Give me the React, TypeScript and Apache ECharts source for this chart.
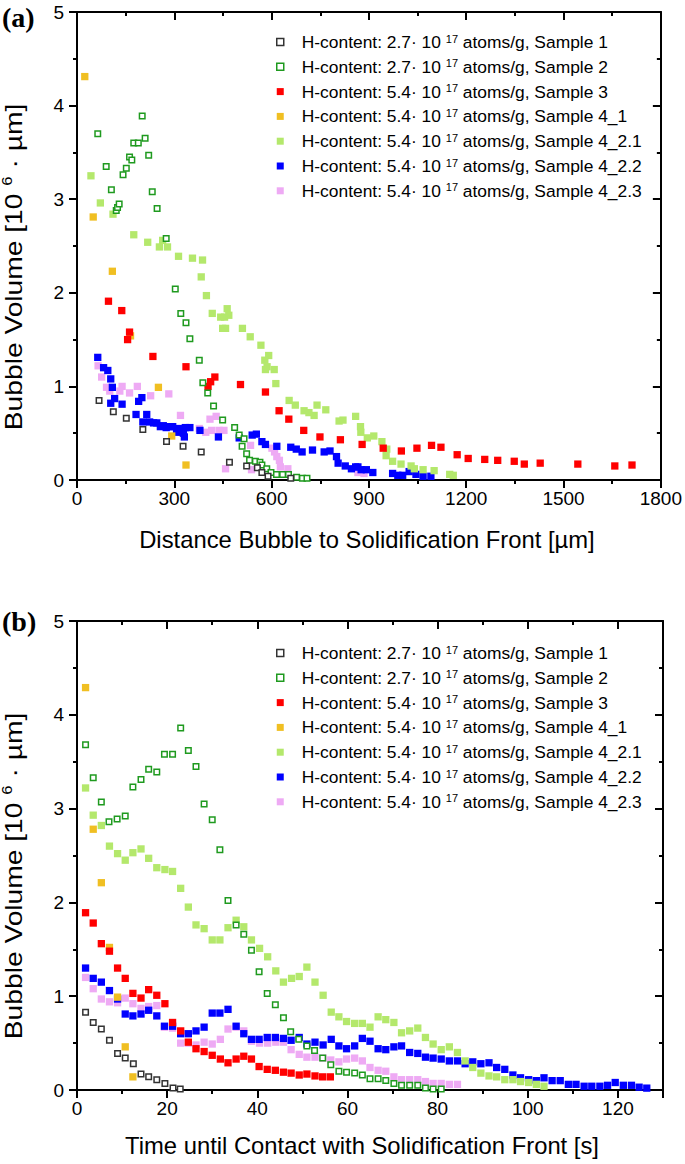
import React, { useEffect, useRef } from "react";
import * as echarts from "echarts";

// ---------- categories / legend ----------
const SAMPLES = ["Sample 1", "Sample 2", "Sample 3", "Sample 4_1", "Sample 4_2.1", "Sample 4_2.2", "Sample 4_2.3"];
const H_CONTENT = ["2.7", "2.7", "5.4", "5.4", "5.4", "5.4", "5.4"];
const COLORS = ["#333333", "#1f9a1f", "#ff0000", "#f0bf22", "#b4e86c", "#0000ff", "#eeaaf4"];
const HOLLOW = [true, true, false, false, false, false, false];

const X_TITLE_A = "Distance Bubble to Solidification Front [µm]";
const X_TITLE_B = "Time until Contact with Solidification Front [s]";
const Y_TITLE = "{t|Bubble Volume [10 }{s|6}{t| · µm]}";

// ---------- (a) distance [µm] vs bubble volume ----------
const distS1: [number, number][] = [[68,0.85],[112,0.73],[152,0.66],[203,0.54],[276,0.41],[327,0.36],[383,0.30],[470,0.19],[523,0.15],[556,0.13],[570,0.08],[589,0.04],[659,0.02]];
const distS2: [number, number][] = [[64,3.70],[90,3.35],[106,3.10],[121,2.88],[125,2.91],[130,2.95],[142,3.26],[152,3.33],[162,3.45],[169,3.42],[175,3.60],[189,3.60],[201,3.89],[210,3.65],[221,3.47],[232,3.08],[247,2.90],[275,2.58],[303,2.04],[320,1.78],[336,1.68],[348,1.51],[377,1.28],[388,1.04],[403,0.93],[421,0.79],[449,0.64],[486,0.56],[500,0.48],[509,0.36],[515,0.44],[523,0.28],[532,0.21],[550,0.20],[564,0.19],[570,0.16],[585,0.12],[598,0.08],[615,0.06],[634,0.06],[652,0.06],[677,0.03],[695,0.02],[709,0.02]];
const distS3: [number, number][] = [[97,1.91],[138,1.81],[156,1.50],[162,1.58],[234,1.32],[336,1.21],[404,1.00],[412,1.05],[425,1.10],[504,1.02],[581,0.94],[623,0.74],[653,0.65],[699,0.53],[749,0.46],[812,0.43],[879,0.38],[944,0.34],[1000,0.31],[1048,0.34],[1093,0.37],[1122,0.35],[1172,0.27],[1206,0.23],[1257,0.22],[1297,0.21],[1348,0.20],[1379,0.17],[1428,0.18],[1544,0.17],[1658,0.15],[1711,0.16]];
const distS41: [number, number][] = [[24,4.31],[50,2.81],[109,2.23],[165,1.54],[251,0.99],[292,0.47],[336,0.16]];
const distS421: [number, number][] = [[43,3.25],[72,2.96],[111,2.84],[175,2.62],[218,2.54],[254,2.49],[264,2.56],[279,2.49],[313,2.39],[356,2.37],[387,2.35],[383,2.17],[399,1.97],[417,1.78],[443,1.74],[455,1.74],[463,1.83],[468,1.76],[449,1.62],[458,1.62],[510,1.62],[534,1.53],[567,1.44],[591,1.33],[579,1.28],[586,1.21],[581,1.18],[608,1.18],[613,1.03],[654,0.85],[673,0.80],[700,0.74],[715,0.72],[731,0.69],[740,0.80],[767,0.75],[808,0.63],[820,0.64],[859,0.68],[874,0.57],[875,0.51],[895,0.45],[915,0.47],[940,0.41],[955,0.33],[953,0.26],[973,0.20],[999,0.17],[1030,0.15],[1040,0.12],[1067,0.11],[1101,0.10],[1149,0.06],[1160,0.05]];
const distS422: [number, number][] = [[64,1.31],[82,1.20],[95,1.17],[104,1.08],[109,0.99],[116,0.87],[104,0.82],[139,0.81],[190,0.84],[200,0.88],[182,0.70],[215,0.70],[203,0.62],[224,0.62],[236,0.61],[246,0.61],[257,0.57],[266,0.58],[275,0.56],[285,0.57],[295,0.57],[307,0.51],[316,0.55],[328,0.50],[334,0.56],[348,0.56],[331,0.46],[379,0.53],[436,0.46],[500,0.45],[540,0.48],[553,0.49],[570,0.41],[581,0.38],[616,0.36],[659,0.35],[676,0.33],[694,0.30],[726,0.32],[762,0.30],[780,0.31],[800,0.25],[805,0.18],[827,0.15],[846,0.12],[859,0.14],[866,0.14],[876,0.11],[892,0.11],[912,0.08],[973,0.07],[989,0.05],[1004,0.05],[1024,0.09],[1045,0.06],[1067,0.04],[1091,0.04]];
const distS423: [number, number][] = [[65,1.22],[76,1.10],[91,0.99],[101,0.95],[132,0.95],[139,1.00],[162,0.93],[186,1.00],[227,0.90],[283,0.92],[319,0.69],[377,0.55],[397,0.51],[410,0.65],[415,0.53],[429,0.68],[438,0.53],[453,0.53],[458,0.12],[535,0.37],[538,0.11],[601,0.34],[609,0.30],[616,0.25],[624,0.21],[627,0.14],[650,0.12],[866,0.08],[885,0.07]];

// ---------- (b) time [s] vs bubble volume ----------
const timeS1: [number, number][] = [[1.9,0.83],[3.6,0.72],[5.4,0.65],[7.2,0.53],[9.0,0.39],[10.7,0.34],[12.5,0.28],[14.2,0.17],[15.9,0.14],[17.7,0.11],[19.5,0.07],[21.3,0.02],[22.9,0.01]];
const timeS2: [number, number][] = [[1.9,3.68],[3.6,3.33],[5.4,3.07],[7.1,2.86],[8.9,2.89],[10.7,2.92],[12.4,3.23],[14.2,3.31],[15.9,3.42],[17.7,3.39],[19.4,3.58],[21.2,3.58],[23.0,3.86],[24.7,3.62],[26.4,3.45],[28.2,3.05],[30.0,2.88],[31.7,2.56],[33.5,2.02],[35.3,1.76],[37.0,1.66],[38.7,1.49],[40.4,1.26],[42.2,1.03],[44.0,0.91],[45.8,0.77],[47.4,0.62],[49.2,0.54],[51.0,0.47],[52.7,0.42],[54.5,0.34],[56.3,0.27],[58.1,0.20],[59.8,0.19],[61.6,0.18],[63.3,0.16],[65.0,0.12],[66.8,0.12],[68.5,0.10],[70.3,0.07],[72.0,0.05],[73.8,0.05],[75.6,0.05],[77.3,0.02],[79.0,0.01],[80.8,0.01]];
const timeS3: [number, number][] = [[1.9,1.89],[3.6,1.78],[5.4,1.56],[7.2,1.48],[9.0,1.30],[10.7,1.19],[12.4,1.03],[14.2,0.98],[15.9,1.07],[17.7,1.01],[19.5,0.92],[21.2,0.72],[23.0,0.63],[24.7,0.51],[26.4,0.44],[28.2,0.41],[30.0,0.37],[31.8,0.33],[33.5,0.29],[35.3,0.33],[37.0,0.36],[38.7,0.33],[40.4,0.25],[42.2,0.22],[44.0,0.21],[45.8,0.19],[47.5,0.18],[49.3,0.16],[51.0,0.17],[52.8,0.15],[54.5,0.14],[56.2,0.14]];
const timeS41: [number, number][] = [[1.9,4.29],[3.6,2.78],[5.4,2.21],[7.2,1.52],[9.0,0.99],[10.7,0.46],[12.4,0.14]];
const timeS421: [number, number][] = [[1.9,3.22],[3.6,2.93],[5.4,2.82],[7.2,2.60],[9.0,2.52],[10.7,2.45],[12.4,2.53],[14.2,2.57],[15.9,2.47],[17.7,2.37],[19.5,2.35],[21.2,2.33],[23.0,2.15],[24.7,1.95],[26.4,1.76],[28.2,1.72],[30.0,1.60],[31.7,1.60],[33.5,1.73],[35.3,1.81],[37.0,1.74],[38.7,1.60],[40.5,1.51],[42.3,1.42],[44.1,1.27],[45.8,1.15],[47.6,1.19],[49.3,1.21],[51.0,1.31],[52.8,1.15],[54.6,1.01],[56.4,0.83],[58.1,0.78],[59.8,0.73],[61.6,0.71],[63.3,0.71],[65.0,0.67],[66.8,0.78],[68.5,0.75],[70.3,0.72],[72.0,0.61],[73.8,0.63],[75.6,0.66],[77.3,0.56],[79.0,0.49],[80.8,0.43],[82.6,0.46],[84.4,0.40],[86.1,0.31],[87.8,0.24],[89.6,0.18],[91.4,0.15],[93.1,0.14],[94.9,0.11],[96.7,0.11],[98.4,0.09],[100.2,0.08],[101.9,0.06],[103.6,0.04]];
const timeS422: [number, number][] = [[1.9,1.30],[3.6,1.19],[5.4,1.15],[7.2,1.06],[9.0,0.97],[10.7,0.81],[12.4,0.79],[14.2,0.81],[15.9,0.85],[17.7,0.79],[19.4,0.68],[21.2,0.68],[23.0,0.60],[24.7,0.60],[26.4,0.63],[28.2,0.67],[30.0,0.82],[31.7,0.82],[33.5,0.86],[35.3,0.68],[37.0,0.60],[38.7,0.54],[40.4,0.54],[42.2,0.56],[44.0,0.56],[45.8,0.55],[47.5,0.53],[49.3,0.56],[51.0,0.49],[52.8,0.51],[54.6,0.48],[56.4,0.54],[58.1,0.47],[59.8,0.44],[61.6,0.47],[63.3,0.55],[65.0,0.52],[66.8,0.44],[68.5,0.43],[70.3,0.46],[72.0,0.47],[73.8,0.40],[75.6,0.39],[77.3,0.35],[79.0,0.34],[80.8,0.33],[82.6,0.31],[84.4,0.31],[86.1,0.28],[87.8,0.30],[89.6,0.28],[91.4,0.29],[93.1,0.24],[94.9,0.22],[96.7,0.16],[98.4,0.13],[100.2,0.11],[101.9,0.10],[103.6,0.13],[105.4,0.10],[107.2,0.10],[109.0,0.06],[110.7,0.06],[112.5,0.04],[114.2,0.04],[116.0,0.04],[117.7,0.05],[119.4,0.08],[121.2,0.05],[123.0,0.05],[124.7,0.03],[126.4,0.02]];
const timeS423: [number, number][] = [[1.9,1.20],[3.6,1.08],[5.4,0.97],[7.2,0.94],[9.0,0.93],[10.7,0.98],[12.4,0.92],[14.2,0.87],[15.9,0.89],[17.7,0.90],[19.4,0.67],[21.2,0.66],[23.0,0.50],[24.7,0.50],[26.4,0.48],[28.2,0.51],[30.0,0.49],[31.8,0.54],[33.5,0.65],[35.3,0.67],[37.0,0.63],[38.7,0.52],[40.5,0.50],[42.3,0.50],[44.1,0.51],[45.8,0.51],[47.5,0.43],[49.3,0.38],[51.0,0.35],[52.8,0.35],[54.6,0.34],[56.3,0.32],[58.1,0.30],[59.8,0.33],[61.6,0.34],[63.3,0.31],[65.0,0.24],[66.8,0.21],[68.5,0.20],[70.3,0.14],[72.0,0.11],[73.8,0.11],[75.6,0.11],[77.3,0.09],[79.0,0.07],[80.8,0.07],[82.6,0.06],[84.4,0.06]];

const DIST_DATA = [distS1, distS2, distS3, distS41, distS421, distS422, distS423];
const TIME_DATA = [timeS1, timeS2, timeS3, timeS41, timeS421, timeS422, timeS423];

const FONT = "'Liberation Sans', Arial, Helvetica, sans-serif";

export default function App() {
  const ref = useRef<HTMLDivElement>(null);

  useEffect(() => {
    const chart = echarts.init(ref.current!, null, { renderer: "svg" });

    const lineStyle = { color: "#000", width: 2 };
    const grids = [
      { left: 77, top: 12, width: 586, height: 468 },
      { left: 77, top: 621, width: 586, height: 469 },
    ];

    const xAxisMain = (gi: number, max: number, interval: number, name: string, gap: number, shift: number) => ({
      type: "value", gridIndex: gi, position: "bottom", min: 0, max, interval,
      name, nameLocation: "middle", nameGap: gap,
      nameTextStyle: { fontSize: 23.8, color: "#000", fontFamily: FONT, padding: [0, shift, 0, 0] },
      axisLine: { show: true, onZero: false, lineStyle },
      axisTick: { show: true, length: 8, lineStyle },
      minorTick: { show: true, splitNumber: 2, length: 4, lineStyle },
      axisLabel: { fontSize: 19, color: "#000", fontFamily: FONT, margin: 9,
        formatter: (v: number) => (v % interval === 0 ? String(v) : "") },
      splitLine: { show: false },
    });
    const xAxisMirror = (gi: number, max: number, interval: number) => ({
      type: "value", gridIndex: gi, position: "top", min: 0, max, interval,
      axisLine: { show: true, onZero: false, lineStyle },
      axisTick: { show: true, inside: true, length: 8, lineStyle },
      minorTick: { show: true, splitNumber: 2, length: 4, lineStyle },
      axisLabel: { show: false },
      splitLine: { show: false },
    });
    const yAxisMain = (gi: number) => ({
      type: "value", gridIndex: gi, position: "left", min: 0, max: 5, interval: 1,
      axisLine: { show: true, onZero: false, lineStyle },
      axisTick: { show: true, length: 8, lineStyle },
      minorTick: { show: true, splitNumber: 2, length: 4, lineStyle },
      axisLabel: { fontSize: 19, color: "#000", fontFamily: FONT, margin: 13 },
      splitLine: { show: false },
    });
    const yAxisMirror = (gi: number) => ({
      type: "value", gridIndex: gi, position: "right", min: 0, max: 5, interval: 1,
      axisLine: { show: true, onZero: false, lineStyle },
      axisTick: { show: true, inside: true, length: 8, lineStyle },
      minorTick: { show: true, splitNumber: 2, length: 4, lineStyle },
      axisLabel: { show: false },
      splitLine: { show: false },
    });

    const legendData = SAMPLES.map((s, i) => ({
      name: s,
      icon: "rect",
      itemStyle: HOLLOW[i]
        ? { color: "#fff", borderColor: COLORS[i], borderWidth: 1.5 }
        : { color: COLORS[i], borderWidth: 0 },
    }));
    const legendFormatter = (name: string) => {
      const i = SAMPLES.indexOf(name);
      return `{h|H-content: ${H_CONTENT[i]}· 10 }{s|17}{t| atoms/g, ${name}}`;
    };
    const legendText = {
      rich: {
        h: { fontSize: 17.4, color: "#000", fontFamily: FONT, lineHeight: 18, padding: [0, 0, 0, 13] },
        t: { fontSize: 17.4, color: "#000", fontFamily: FONT, lineHeight: 18 },
        s: { fontSize: 11, color: "#000", fontFamily: FONT, lineHeight: 11, verticalAlign: "top" },
      },
    };
    const legend = (top: number) => ({
      show: true, orient: "vertical", left: 271, top, itemWidth: 7, itemHeight: 7, itemGap: 7.3,
      data: legendData, formatter: legendFormatter, textStyle: legendText, selectedMode: false,
    });

    const makeSeries = (data: [number, number][][], axisIdx: number) =>
      SAMPLES.map((s, i) => ({
        type: "scatter",
        name: s,
        xAxisIndex: axisIdx,
        yAxisIndex: axisIdx,
        data: data[i],
        symbol: "rect",
        symbolSize: HOLLOW[i] ? 5.5 : 7.3,
        z: 20 - i,
        itemStyle: HOLLOW[i]
          ? { color: "#fff", borderColor: COLORS[i], borderWidth: 1.5, opacity: 1 }
          : { color: COLORS[i], opacity: 1 },
        emphasis: { disabled: true },
      }));

    const yTitle = (cy: number) => ({
      type: "text",
      x: 13.5,
      y: cy,
      rotation: Math.PI / 2,
      scaleX: 1.2,
      style: {
        text: Y_TITLE,
        align: "center",
        verticalAlign: "middle",
        rich: {
          t: { fontSize: 23.5, fill: "#000", fontFamily: FONT, lineHeight: 26 },
          s: { fontSize: 14, fill: "#000", fontFamily: FONT, lineHeight: 14, verticalAlign: "top" },
        },
      },
    });

    chart.setOption({
      animation: false,
      backgroundColor: "#fff",
      textStyle: { fontFamily: FONT },
      grid: grids,
      xAxis: [
        xAxisMain(0, 1800, 300, X_TITLE_A, 47, 4),
        xAxisMirror(0, 1800, 300),
        xAxisMain(1, 130, 20, X_TITLE_B, 43, 16),
        xAxisMirror(1, 130, 20),
      ],
      yAxis: [yAxisMain(0), yAxisMirror(0), yAxisMain(1), yAxisMirror(1)],
      legend: [legend(28), legend(639)],
      series: [...makeSeries(DIST_DATA, 0), ...makeSeries(TIME_DATA, 2)],
      graphic: [
        { type: "text", left: 2, top: 3, style: { text: "(a)", font: "bold 28px 'Liberation Serif', 'Times New Roman', serif", fill: "#000" } },
        { type: "text", left: 2, top: 607, style: { text: "(b)", font: "bold 28px 'Liberation Serif', 'Times New Roman', serif", fill: "#000" } },
        yTitle(267),
        yTitle(876),
      ],
    });

    return () => chart.dispose();
  }, []);

  return <div ref={ref} style={{ position: "absolute", left: 0, top: 0, width: 685, height: 1164 }} />;
}
